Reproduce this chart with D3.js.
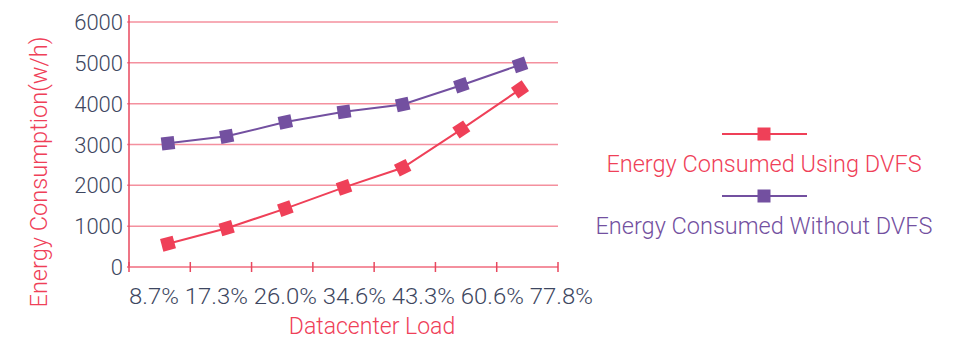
<!DOCTYPE html>
<html lang="en">
<head>
  <meta charset="UTF-8">
  <title>Energy Consumption</title>
  <style>
    body { margin: 0; background: #fff; }
    svg { display: block; font-family: Roboto, "Noto Sans", sans-serif; font-weight: 300; }
    .grid line { stroke: #f4909e; stroke-width: 1.5px; }
    .tick-label { fill: #3d4660; font-size: 22px; }
    .title { fill: #ef4058; font-size: 23px; }
  </style>
</head>
<body>
  <script src="https://d3js.org/d3.v7.min.js"></script>
  <script>
    const loads = ["8.7%", "17.3%", "26.0%", "34.6%", "43.3%", "60.6%", "77.8%"];
    const withDvfs = [570, 950, 1430, 1950, 2430, 3370, 4350];
    const withoutDvfs = [3030, 3200, 3550, 3800, 3980, 4450, 4950];
    const yTicks = [0, 1000, 2000, 3000, 4000, 5000, 6000];

    const series = [
      {name: "Energy Consumed Using DVFS", color: "#ef4058", values: withDvfs},
      {name: "Energy Consumed Without DVFS", color: "#7350a0", values: withoutDvfs}
    ];

    const width = 960, height = 350;
    const plotLeft = 129, plotRight = 558, plotTop = 22, plotBottom = 267;

    const svg = d3.select("body").append("svg").attr("width", width).attr("height", height);

    const y = d3.scaleLinear().domain([0, 6000]).range([plotBottom, plotTop]);
    const xBand = d3.scaleBand().domain(loads).range([plotLeft, plotRight]);  // for tick marks
    const x = d3.scalePoint().domain(loads).range([168, 520]);                // for points

    // gridlines
    svg.append("g").attr("class", "grid")
      .selectAll("line").data(yTicks.slice(1)).enter().append("line")
      .attr("x1", plotLeft - 2).attr("x2", plotRight)
      .attr("y1", d => y(d)).attr("y2", d => y(d));

    // y axis line
    svg.append("line")
      .attr("x1", plotLeft).attr("x2", plotLeft).attr("y1", 15).attr("y2", plotBottom + 1)
      .attr("stroke", "#e8475e").attr("stroke-width", 1.5);

    // x axis line + ticks
    svg.append("line")
      .attr("x1", plotLeft - 2).attr("x2", plotRight).attr("y1", plotBottom).attr("y2", plotBottom)
      .attr("stroke", "#f4909e").attr("stroke-width", 2);
    const tickPos = loads.map(d => xBand(d) + xBand.bandwidth()).concat([plotLeft]);
    svg.append("g").selectAll("line").data(tickPos).enter().append("line")
      .attr("x1", d => d).attr("x2", d => d)
      .attr("y1", plotBottom - 5).attr("y2", plotBottom + 5)
      .attr("stroke", "#e8475e").attr("stroke-width", 1.5);

    // y tick labels
    svg.append("g").selectAll("text").data(yTicks).enter().append("text")
      .attr("class", "tick-label")
      .attr("x", 123).attr("y", d => y(d) + 8)
      .attr("text-anchor", "end")
      .text(d => d);

    // x tick labels, laid out as one run of text like the original
    svg.append("text")
      .attr("class", "tick-label")
      .attr("x", plotLeft).attr("y", 304)
      .attr("textLength", 464).attr("lengthAdjust", "spacingAndGlyphs")
      .text(loads.join(" "));

    // axis titles
    svg.append("text").attr("class", "title")
      .attr("transform", "translate(47,172) rotate(-90)")
      .attr("text-anchor", "middle")
      .attr("textLength", 271).attr("lengthAdjust", "spacingAndGlyphs")
      .text("Energy Consumption(w/h)");

    svg.append("text").attr("class", "title")
      .attr("x", 372).attr("y", 334)
      .attr("text-anchor", "middle")
      .text("Datacenter Load");

    // lines and square markers
    const line = d3.line().x((d, i) => x(loads[i])).y(d => y(d));

    series.forEach(s => {
      svg.append("path")
        .attr("d", line(s.values))
        .attr("fill", "none")
        .attr("stroke", s.color)
        .attr("stroke-width", 2);

      const pts = s.values.map((v, i) => [x(loads[i]), y(v)]);
      svg.append("g").selectAll("rect").data(pts).enter().append("rect")
        .attr("x", -6.5).attr("y", -6.5).attr("width", 13).attr("height", 13)
        .attr("fill", s.color)
        .attr("transform", (p, i) => {
          const a = pts[Math.max(i - 1, 0)], b = pts[Math.min(i + 1, pts.length - 1)];
          const ang = Math.atan2(b[1] - a[1], b[0] - a[0]) * 180 / Math.PI;
          return `translate(${p[0]},${p[1]}) rotate(${ang})`;
        });
    });

    // legend
    const legend = svg.append("g").selectAll("g").data(series).enter().append("g")
      .attr("transform", (d, i) => `translate(764,${134 + i * 62})`);
    legend.append("line")
      .attr("x1", -42).attr("x2", 43)
      .attr("stroke", d => d.color).attr("stroke-width", 2);
    legend.append("rect")
      .attr("x", -6.5).attr("y", -6.5).attr("width", 13).attr("height", 13)
      .attr("fill", d => d.color);
    legend.append("text")
      .attr("y", 38).attr("text-anchor", "middle")
      .attr("fill", d => d.color)
      .style("font-size", "23.5px")
      .text(d => d.name);
  </script>
</body>
</html>
